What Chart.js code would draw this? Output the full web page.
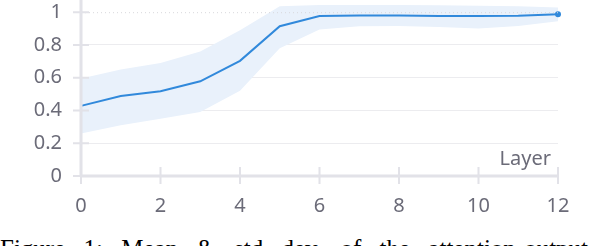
<!DOCTYPE html>
<html>
<head>
<meta charset="utf-8">
<script src="https://cdn.jsdelivr.net/npm/chart.js@4"></script>
<style>
  html, body { margin: 0; padding: 0; background: #fff; }
  body { width: 598px; height: 246px; overflow: hidden; position: relative; }
  #wrap { position: absolute; left: 0; top: 0; width: 598px; height: 222px; }
  #caption {
    position: absolute; left: 0; top: 235px; white-space: nowrap;
    font-family: "Liberation Serif", "DejaVu Serif", serif; font-size: 25px;
    word-spacing: 12px; color: #000;
  }
</style>
</head>
<body>
<div id="wrap"><canvas id="chart" width="598" height="222"></canvas></div>
<div id="caption">Figure 1: Mean &amp; std dev. of the attention-output token relative</div>
<script>
const layers = [0, 1, 2, 3, 4, 5, 6, 7, 8, 9, 10, 11, 12];
const meanVals = [0.428, 0.488, 0.518, 0.578, 0.703, 0.914, 0.976, 0.98, 0.98, 0.976, 0.976, 0.978, 0.988];
const upperVals = [0.595, 0.65, 0.69, 0.76, 0.89, 1.036, 1.044, 1.044, 1.044, 1.042, 1.04, 1.036, 1.028];
const lowerVals = [0.26, 0.31, 0.35, 0.39, 0.52, 0.78, 0.895, 0.914, 0.916, 0.91, 0.9, 0.916, 0.944];
const xTicks = [0, 2, 4, 6, 8, 10, 12];
const yTicks = [0, 0.2, 0.4, 0.6, 0.8, 1];
const xTitle = 'Layer';

const axisColor = '#e2e2e8';
const textColor = '#6b6b78';
const fontFamily = '"Noto Sans", "Open Sans", sans-serif';

const pts = (vals) => vals.map((v, i) => ({ x: layers[i], y: v }));

const axesPlugin = {
  id: 'axes',
  afterDraw(chart) {
    const { ctx, chartArea } = chart;
    const xs = chart.scales.x, ys = chart.scales.y;
    const x0 = xs.getPixelForValue(0), y0 = ys.getPixelForValue(0);
    const xEnd = xs.getPixelForValue(xTicks[xTicks.length - 1]);
    ctx.save();
    // dotted gridline at the top value
    ctx.strokeStyle = '#d8d8dc';
    ctx.lineWidth = 1;
    ctx.setLineDash([1, 3]);
    const yTop = ys.getPixelForValue(yTicks[yTicks.length - 1]);
    ctx.beginPath();
    ctx.moveTo(x0, yTop + 0.5);
    ctx.lineTo(xEnd, yTop + 0.5);
    ctx.stroke();
    ctx.setLineDash([]);

    ctx.strokeStyle = axisColor;
    ctx.lineWidth = 3;
    ctx.beginPath();
    ctx.moveTo(x0, 0);
    ctx.lineTo(x0, y0);
    ctx.moveTo(x0, y0);
    ctx.lineTo(xEnd, y0);
    ctx.stroke();

    ctx.lineWidth = 2;
    ctx.beginPath();
    yTicks.forEach((v) => {
      const y = ys.getPixelForValue(v);
      ctx.moveTo(x0 - 8, y);
      ctx.lineTo(x0 + 8, y);
    });
    xTicks.forEach((v) => {
      const x = xs.getPixelForValue(v);
      ctx.moveTo(x, y0 - 9);
      ctx.lineTo(x, y0 + 8);
    });
    ctx.stroke();

    ctx.fillStyle = textColor;
    ctx.font = `20px ${fontFamily}`;
    ctx.textAlign = 'right';
    ctx.textBaseline = 'middle';
    ctx.fillText(xTitle, xEnd - 7, y0 - 17);
    ctx.restore();
  }
};

new Chart(document.getElementById('chart'), {
  type: 'line',
  data: {
    datasets: [
      {
        data: pts(upperVals), borderWidth: 0, pointRadius: 0, fill: '+1',
        backgroundColor: '#e9f1fb', order: 2, tension: 0
      },
      {
        data: pts(lowerVals), borderWidth: 0, pointRadius: 0, fill: false,
        order: 3, tension: 0
      },
      {
        data: pts(meanVals), borderColor: '#3189db', borderWidth: 2, fill: false,
        pointRadius: (c) => (c.dataIndex === meanVals.length - 1 ? 3 : 0),
        pointBackgroundColor: '#3189db', pointBorderWidth: 0, order: 0, tension: 0, clip: false
      }
    ]
  },
  options: {
    responsive: false,
    animation: false,
    layout: { padding: { top: 2, right: 40, left: 0, bottom: 0 } },
    plugins: { legend: { display: false }, tooltip: { enabled: false } },
    scales: {
      x: {
        type: 'linear', min: 0, max: 12,
        afterBuildTicks: (s) => { s.ticks = xTicks.map((v) => ({ value: v })); },
        afterFit: (s) => { s.height = 46; },
        ticks: { font: { family: fontFamily, size: 20, lineHeight: 1 }, color: textColor, padding: 12, maxRotation: 0 },
        grid: { display: false },
        border: { display: false }
      },
      y: {
        min: 0, max: 1.05,
        afterBuildTicks: (s) => { s.ticks = yTicks.map((v) => ({ value: v })); },
        afterFit: (s) => { s.width = 81; },
        ticks: {
          font: { family: fontFamily, size: 20, lineHeight: 0.1 }, color: textColor, padding: 0,
          callback: (v) => String(Math.round(v * 10) / 10)
        },
        grid: {
          drawTicks: true, tickLength: 19, tickColor: 'rgba(0,0,0,0)', lineWidth: 1,
          color: (c) => (c.tick && c.tick.value === yTicks[yTicks.length - 1] ? 'rgba(0,0,0,0)' : '#ececef')
        },
        border: { display: false }
      }
    }
  },
  plugins: [axesPlugin]
});
</script>
</body>
</html>
